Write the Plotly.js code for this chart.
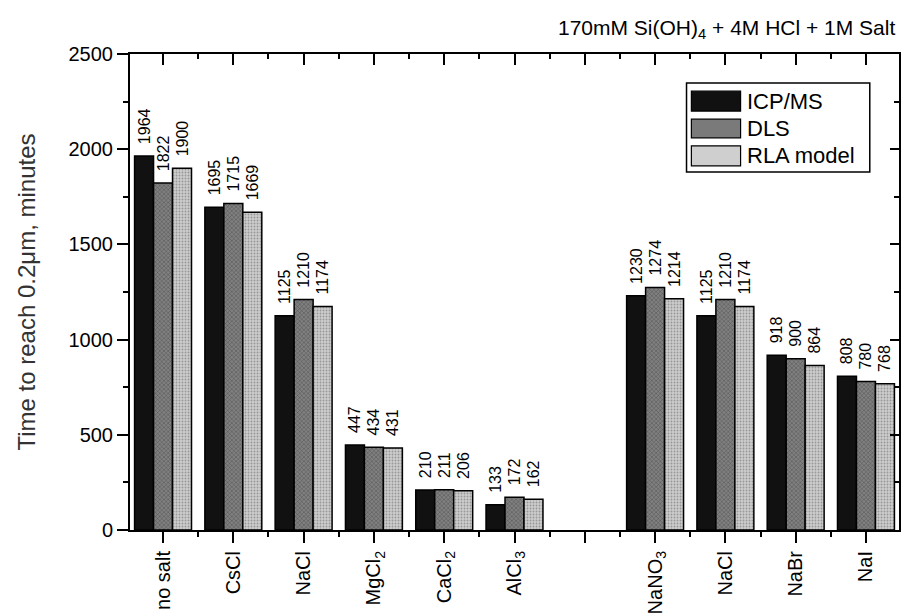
<!DOCTYPE html>
<html>
<head>
<meta charset="utf-8">
<script src="https://cdn.plot.ly/plotly-3.0.1.min.js"></script>
<style>html,body{margin:0;padding:0;background:#fff;}#chart{width:901px;height:615px;}</style>
</head>
<body>
<div id="chart"></div>
<script>
const categories = ['no salt','CsCl','NaCl','MgCl<sub>2</sub>','CaCl<sub>2</sub>','AlCl<sub>3</sub>','','NaNO<sub>3</sub>','NaCl','NaBr','NaI'];
const icpms = [1964,1695,1125,447,210,133,null,1230,1125,918,808];
const dls   = [1822,1715,1210,434,211,172,null,1274,1210,900,780];
const rla   = [1900,1669,1174,431,206,162,null,1214,1174,864,768];
const seriesNames = ['ICP/MS','DLS','RLA model'];

const xpos = categories.map((c,i)=>i);

const FONT = 'Liberation Sans, Arial, Helvetica, sans-serif';
const textFont = {family: FONT, size: 16, color:'#000'};

function barTrace(name, vals, color, pattern){
  const idx = vals.map((v,i)=>i).filter(i => vals[i] != null);
  return {
    type:'bar', name:name,
    x: idx.map(i => xpos[i]), y: idx.map(i => vals[i]),
    text: idx.map(i => '\u00a0\u00a0' + vals[i]),
    textposition:'outside', textangle:-90, constraintext:'none', cliponaxis:false,
    textfont:textFont, showlegend:false,
    marker:{color:color, line:{color:'#000', width:1.5}, pattern:pattern},
    hoverinfo:'x+y'
  };
}

const traces = [
  barTrace(seriesNames[0], icpms, '#111111', {shape:''}),
  barTrace(seriesNames[1], dls, '#808080', {shape:'x', fgcolor:'#454545', bgcolor:'#808080', size:3, solidity:0.25}),
  barTrace(seriesNames[2], rla, '#cdcdcd', {shape:'.', fgcolor:'#979797', bgcolor:'#cdcdcd', size:3, solidity:0.3}),
  {type:'scatter', x:[], y:[], xaxis:'x2', yaxis:'y2', showlegend:false, hoverinfo:'skip'}
];

// custom legend (paper coords)
const swatchColors = ['#111111','#7a7a7a','#cfcfcf'];
const legRowsY = [[0.922,0.880],[0.863,0.824],[0.807,0.765]];
const shapes = [
  {type:'rect', xref:'paper', yref:'paper', x0:0.7237, x1:0.962, y0:0.752, y1:0.939, line:{color:'#000', width:1.5}, fillcolor:'#fff'}
];
const annotations = [];
seriesNames.forEach((n,k)=>{
  shapes.push({type:'rect', xref:'paper', yref:'paper', x0:0.730, x1:0.794, y0:legRowsY[k][1], y1:legRowsY[k][0],
    line:{color:'#000', width:1.2}, fillcolor:swatchColors[k]});
  annotations.push({xref:'paper', yref:'paper', x:0.800, y:(legRowsY[k][0]+legRowsY[k][1])/2, xanchor:'left', yanchor:'middle',
    text:n, showarrow:false, font:{family:FONT, size:22, color:'#000'}});
});
annotations.push({xref:'paper', yref:'paper', x:0.997, y:1.052, xanchor:'right', yanchor:'middle',
  text:'170mM Si(OH)<sub>4</sub> + 4M HCl + 1M Salt', showarrow:false, font:{family:FONT, size:21, color:'#000'}});

const xr = [-0.47, 10.47];
const layout = {
  width:901, height:615,
  margin:{l:130, r:2, t:54, b:85, pad:0},
  paper_bgcolor:'#fff', plot_bgcolor:'#fff',
  barmode:'group', bargap:0.19, bargroupgap:0,
  font:{family:FONT, color:'#000'},
  xaxis:{
    range:xr, tickmode:'array', tickvals:xpos, ticktext:categories, tickangle:-90,
    ticks:'outside', ticklen:11, tickwidth:2, tickcolor:'#000',
    minor:{tickmode:'linear', tick0:0.5, dtick:1, ticks:'outside', ticklen:5, tickwidth:2, tickcolor:'#000'},
    showline:true, linewidth:2, linecolor:'#000', showgrid:false, zeroline:false,
    tickfont:{family:FONT, size:20, color:'#000'}, fixedrange:true
  },
  xaxis2:{
    overlaying:'x', side:'top', anchor:'y', range:xr, tickmode:'linear', tick0:0, dtick:1,
    ticks:'inside', ticklen:11, tickwidth:2, tickcolor:'#000', showticklabels:false,
    minor:{tickmode:'linear', tick0:0.5, dtick:1, ticks:'inside', ticklen:5, tickwidth:2, tickcolor:'#000'},
    showline:true, linewidth:2, linecolor:'#000', showgrid:false, zeroline:false
  },
  yaxis:{
    range:[0,2500], tickmode:'linear', tick0:0, dtick:500,
    ticks:'outside', ticklen:11, tickwidth:2, tickcolor:'#000',
    minor:{tickmode:'linear', tick0:0, dtick:250, ticks:'outside', ticklen:5, tickwidth:2, tickcolor:'#000'},
    showline:true, linewidth:2, linecolor:'#000', showgrid:false, zeroline:false,
    tickfont:{family:FONT, size:20, color:'#000'},
    title:{text:'Time to reach 0.2\u03bcm, minutes', font:{family:FONT, size:24, color:'#333'}, standoff:26}
  },
  yaxis2:{
    overlaying:'y', side:'right', anchor:'x', range:[0,2500], tickmode:'linear', tick0:0, dtick:500,
    ticks:'inside', ticklen:9, tickwidth:2, tickcolor:'#000', showticklabels:false,
    minor:{tickmode:'linear', tick0:0, dtick:250, ticks:'inside', ticklen:5, tickwidth:2, tickcolor:'#000'},
    showline:true, linewidth:2, linecolor:'#000', showgrid:false, zeroline:false
  },
  shapes:shapes, annotations:annotations
};

Plotly.newPlot('chart', traces, layout, {displayModeBar:false, staticPlot:true});
</script>
</body>
</html>
